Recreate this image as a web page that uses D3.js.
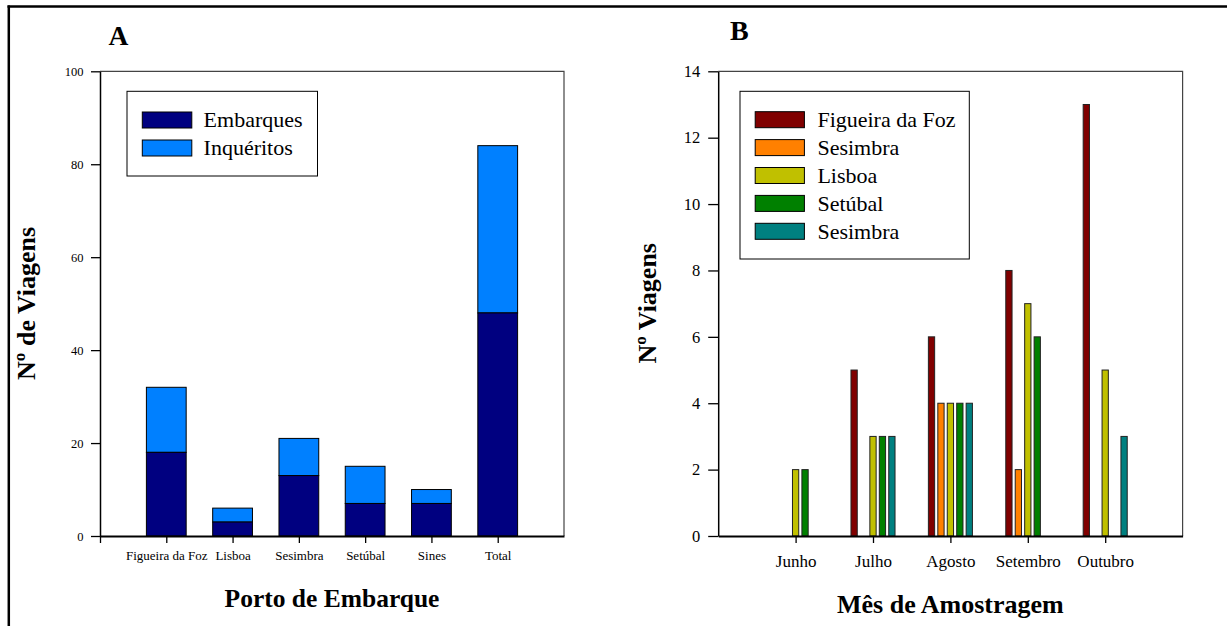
<!DOCTYPE html>
<html>
<head>
<meta charset="utf-8">
<script src="https://cdn.jsdelivr.net/npm/d3@7"></script>
<style>
  html, body { margin: 0; padding: 0; background: #fff; }
  svg { display: block; }
  text { font-family: "Liberation Serif", "Times New Roman", serif; fill: #000; }
</style>
</head>
<body>
<svg id="chart" width="1227" height="626"></svg>
<script>
// ---------- Data: panel A ----------
const portos = ["Figueira da Foz", "Lisboa", "Sesimbra", "Setúbal", "Sines", "Total"];
const embarques = [18, 3, 13, 7, 7, 48];
const inqueritos = [14, 3, 8, 8, 3, 36];
const ticksA = [0, 20, 40, 60, 80, 100];
const legendA = ["Embarques", "Inquéritos"];

// ---------- Data: panel B ----------
const meses = ["Junho", "Julho", "Agosto", "Setembro", "Outubro"];
const seriesB = ["Figueira da Foz", "Sesimbra", "Lisboa", "Setúbal", "Sesimbra"];
const figueira = [0, 5, 6, 8, 13];
const sesimbra1 = [0, 0, 4, 2, 0];
const lisboa = [2, 3, 4, 7, 5];
const setubal = [2, 3, 4, 6, 0];
const sesimbra2 = [0, 3, 4, 0, 3];
const ticksB = [0, 2, 4, 6, 8, 10, 12, 14];

const colorsA = ["#000080", "#0080ff"];
const colorsB = ["#800000", "#ff8000", "#c0c000", "#008000", "#008080"];

const svg = d3.select("#chart");

// outer frame (left and top only)
svg.append("line").attr("x1", 8.8).attr("x2", 8.8).attr("y1", 5.5).attr("y2", 626)
  .attr("stroke", "#000").attr("stroke-width", 2.5);
svg.append("line").attr("x1", 7.5).attr("x2", 1227).attr("y1", 6.5).attr("y2", 6.5)
  .attr("stroke", "#000").attr("stroke-width", 2.5);

// ================= Panel A =================
(function () {
  const left = 100, right = 564, top = 71.3, bottom = 536;
  const x = d3.scaleLinear().domain([0, portos.length + 1]).range([left, right]);
  const y = d3.scaleLinear().domain([0, 100]).range([bottom, top]);
  const g = svg.append("g");

  // frame top/right
  g.append("path").attr("d", `M${left},${top}H${right}V${bottom}`)
    .attr("fill", "none").attr("stroke", "#444").attr("stroke-width", 1.2);

  const bw = 0.6;
  const stacked = portos.map((p, i) => ({ i, e: embarques[i], q: inqueritos[i] }));
  // Inquéritos (top)
  g.selectAll("rect.q").data(stacked).join("rect").attr("class", "q")
    .attr("x", d => x(d.i + 1 - bw / 2)).attr("width", d => x(d.i + 1 + bw / 2) - x(d.i + 1 - bw / 2))
    .attr("y", d => y(d.e + d.q)).attr("height", d => y(d.e) - y(d.e + d.q))
    .attr("fill", colorsA[1]).attr("stroke", "#000").attr("stroke-width", 1);
  // Embarques (bottom)
  g.selectAll("rect.e").data(stacked).join("rect").attr("class", "e")
    .attr("x", d => x(d.i + 1 - bw / 2)).attr("width", d => x(d.i + 1 + bw / 2) - x(d.i + 1 - bw / 2))
    .attr("y", d => y(d.e)).attr("height", d => y(0) - y(d.e))
    .attr("fill", colorsA[0]).attr("stroke", "#000").attr("stroke-width", 1);

  // y axis
  const ya = g.append("g").attr("transform", `translate(${left},0)`)
    .call(d3.axisLeft(y).tickValues(ticksA).tickSize(9).tickSizeOuter(0).tickPadding(7.5));
  ya.select(".domain").attr("stroke", "#000").attr("stroke-width", 1.5);
  ya.selectAll(".tick line").attr("stroke", "#000").attr("stroke-width", 1.3);
  ya.selectAll(".tick text").style("font-family", '"Liberation Serif", serif').style("font-size", "12.5px").attr("fill", "#000");

  // x axis
  const xa = g.append("g").attr("transform", `translate(0,${bottom})`)
    .call(d3.axisBottom(x).tickValues(d3.range(0, portos.length + 1)).tickSize(7).tickSizeOuter(0)
      .tickFormat(d => d === 0 ? "" : portos[d - 1]));
  xa.select(".domain").attr("stroke", "#000").attr("stroke-width", 2);
  xa.selectAll(".tick line").attr("stroke", "#000").attr("stroke-width", 1.3);
  xa.selectAll(".tick text").attr("y", 24).attr("dy", 0)
    .style("font-family", '"Liberation Serif", serif').style("font-size", "13px").attr("fill", "#000");

  // legend
  g.append("rect").attr("x", 127).attr("y", 91.3).attr("width", 190.5).attr("height", 84.7)
    .attr("fill", "#fff").attr("stroke", "#000").attr("stroke-width", 1);
  legendA.forEach((name, i) => {
    g.append("rect").attr("x", 142.3).attr("y", 112 + i * 28).attr("width", 49.5).attr("height", 16)
      .attr("fill", colorsA[i]).attr("stroke", "#000").attr("stroke-width", 1);
    g.append("text").attr("x", 203.6).attr("y", 127 + i * 28).style("font-size", "22px").text(name);
  });

  // labels
  g.append("text").attr("x", 108.5).attr("y", 45).style("font-size", "27.5px").style("font-weight", "bold").text("A");
  g.append("text").attr("x", (left + right) / 2).attr("y", 606.7).attr("text-anchor", "middle")
    .style("font-size", "25.5px").style("font-weight", "bold").text("Porto de Embarque");
  g.append("text").attr("transform", "translate(34.5,303.4) rotate(-90)").attr("text-anchor", "middle")
    .style("font-size", "26px").style("font-weight", "bold").text("Nº de Viagens");
})();

// ================= Panel B =================
(function () {
  const left = 718.2, right = 1182.6, top = 71.3, bottom = 536;
  const x = d3.scaleLinear().domain([0, meses.length + 1]).range([left, right]);
  const y = d3.scaleLinear().domain([0, 14]).range([bottom, top]);
  const g = svg.append("g");

  g.append("path").attr("d", `M${left},${top}H${right}V${bottom}`)
    .attr("fill", "none").attr("stroke", "#444").attr("stroke-width", 1.2);

  const values = [figueira, sesimbra1, lisboa, setubal, sesimbra2];
  const step = 0.122, bw = 0.081;
  const bars = [];
  values.forEach((arr, s) => arr.forEach((v, m) => { if (v > 0) bars.push({ s, m, v }); }));
  g.selectAll("rect.b").data(bars).join("rect").attr("class", "b")
    .attr("x", d => x(d.m + 1 + (d.s - 2) * step - bw / 2))
    .attr("width", d => x(d.m + 1 + (d.s - 2) * step + bw / 2) - x(d.m + 1 + (d.s - 2) * step - bw / 2))
    .attr("y", d => y(d.v)).attr("height", d => y(0) - y(d.v))
    .attr("fill", d => colorsB[d.s]).attr("stroke", "#222").attr("stroke-width", 1);

  const ya = g.append("g").attr("transform", `translate(${left},0)`)
    .call(d3.axisLeft(y).tickValues(ticksB).tickSize(10).tickSizeOuter(0).tickPadding(8));
  ya.select(".domain").attr("stroke", "#000").attr("stroke-width", 1.5);
  ya.selectAll(".tick line").attr("stroke", "#000").attr("stroke-width", 1.3);
  ya.selectAll(".tick text").style("font-family", '"Liberation Serif", serif').style("font-size", "16.5px").attr("fill", "#000");

  const xa = g.append("g").attr("transform", `translate(0,${bottom})`)
    .call(d3.axisBottom(x).tickValues(d3.range(1, meses.length + 1)).tickSize(7).tickSizeOuter(0)
      .tickFormat(d => meses[d - 1]));
  xa.select(".domain").attr("stroke", "#000").attr("stroke-width", 2);
  xa.selectAll(".tick line").attr("stroke", "#000").attr("stroke-width", 1.3);
  xa.selectAll(".tick text").attr("y", 30.7).attr("dy", 0)
    .style("font-family", '"Liberation Serif", serif').style("font-size", "17px").attr("fill", "#000");

  // legend
  g.append("rect").attr("x", 740).attr("y", 91.3).attr("width", 229.3).attr("height", 167.7)
    .attr("fill", "#fff").attr("stroke", "#000").attr("stroke-width", 1);
  seriesB.forEach((name, i) => {
    g.append("rect").attr("x", 755.2).attr("y", 111.7 + i * 27.9).attr("width", 49.2).attr("height", 16)
      .attr("fill", colorsB[i]).attr("stroke", "#000").attr("stroke-width", 1);
    g.append("text").attr("x", 817.4).attr("y", 127.3 + i * 27.9).style("font-size", "22px").text(name);
  });

  g.append("text").attr("x", 730).attr("y", 40).style("font-size", "28px").style("font-weight", "bold").text("B");
  g.append("text").attr("x", (left + right) / 2).attr("y", 613.3).attr("text-anchor", "middle")
    .style("font-size", "26px").style("font-weight", "bold").text("Mês de Amostragem");
  g.append("text").attr("transform", "translate(656.3,303.3) rotate(-90)").attr("text-anchor", "middle")
    .style("font-size", "26px").style("font-weight", "bold").text("Nº Viagens");
})();
</script>
</body>
</html>
